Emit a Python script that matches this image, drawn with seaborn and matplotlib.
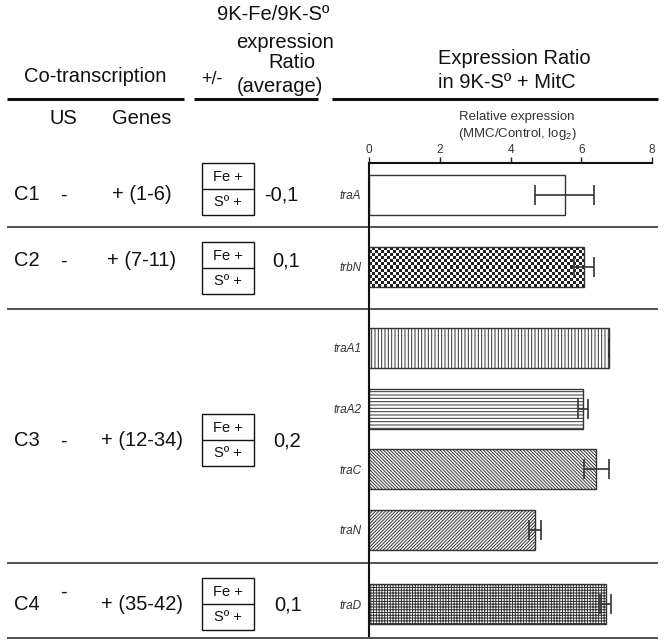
import numpy as np
import pandas as pd
import matplotlib
matplotlib.use("Agg")
from matplotlib import pyplot as plt
from matplotlib.patches import Rectangle
from matplotlib.colors import ListedColormap
import seaborn as sns

# ---- data ----
genes = ["traA", "trbN", "traA1", "traA2", "traC", "traN", "traD"]
rel_expr = [5.53, 6.08, 6.78, 6.04, 6.43, 4.69, 6.69]
rel_err = [0.83, 0.29, 0.0, 0.14, 0.36, 0.16, 0.16]

clusters = ["C1", "C2", "C3", "C4"]
us_marks = ["-", "-", "-", "-"]
gene_ranges = ["+ (1-6)", "+ (7-11)", "+ (12-34)", "+ (35-42)"]
ratio_avg = ["-0,1", "0,1", "0,2", "0,1"]
xticks = [0, 2, 4, 6, 8]

# ---- layout (pixel coords of the 666x642 canvas) ----
W, H = 666, 642
bar_y = [195, 266.7, 348, 409, 469.3, 530, 604.5]
row_y = [195, 261, 441, 605]
us_y = [195, 261, 441, 592]
box_top = [163, 242, 414, 578]
ratio_x = [281, 286, 287, 288]
sep_y = [227, 308.5, 563, 638]
hatches = ["", "checker", "|||||", "-----", "\\" * 10, "/" * 10, "++++++"]

sns.set_style("white")
plt.rcParams["font.family"] = ["Liberation Sans", "DejaVu Sans"]
plt.rcParams["hatch.linewidth"] = 0.7
plt.rcParams["mathtext.fontset"] = "custom"
plt.rcParams["mathtext.rm"] = "Liberation Sans"
plt.rcParams["mathtext.it"] = "Liberation Sans:italic"

fig = plt.figure(figsize=(6.66, 6.42), dpi=100)

# background axes for the table part
tab = fig.add_axes([0, 0, 1, 1])
tab.set_xlim(0, W)
tab.set_ylim(H, 0)
tab.axis("off")

ink = "#111111"
big = 14.5

# header
tab.text(95, 77, "Co-transcription", ha="center", va="center", fontsize=big, color=ink)
tab.text(273, 14, "9K-Fe/9K-Sº", ha="center", va="center", fontsize=big, color=ink)
tab.text(285, 43, "expression", ha="center", va="center", fontsize=big, color=ink)
tab.text(292, 63, "Ratio", ha="center", va="center", fontsize=big, color=ink)
tab.text(212, 79, "+/-", ha="center", va="center", fontsize=13, color=ink)
tab.text(280, 87, "(average)", ha="center", va="center", fontsize=big, color=ink)
tab.text(438, 58, "Expression Ratio", ha="left", va="center", fontsize=big, color=ink)
tab.text(438, 82, "in 9K-Sº + MitC", ha="left", va="center", fontsize=big, color=ink)
tab.text(63, 118, "US", ha="center", va="center", fontsize=big, color=ink)
tab.text(142, 118, "Genes", ha="center", va="center", fontsize=big, color=ink)
tab.text(517, 117, "Relative expression", ha="center", va="center", fontsize=9.5, color="#333333")
tab.text(517, 134, "(MMC/Control, log$_2$)", ha="center", va="center", fontsize=9.5, color="#333333")

for x0, x1 in [(7, 184), (194, 318), (332, 658)]:
    tab.plot([x0, x1], [99, 99], lw=2.2, color=ink, solid_capstyle="butt")
for y in sep_y:
    tab.plot([7, 658], [y, y], lw=1.1, color="#222222", solid_capstyle="butt")

# rows
for i in range(len(clusters)):
    tab.text(27, row_y[i], clusters[i], ha="center", va="center", fontsize=big, color=ink)
    tab.text(63, us_y[i], us_marks[i], ha="center", va="center", fontsize=big, color=ink)
    tab.text(142, row_y[i], gene_ranges[i], ha="center", va="center", fontsize=big, color=ink)
    tab.text(ratio_x[i], row_y[i], ratio_avg[i], ha="center", va="center", fontsize=big, color=ink)
    top = box_top[i]
    tab.add_patch(Rectangle((202, top), 52, 52, fill=False, lw=1.0, ec=ink))
    tab.plot([202, 254], [top + 26, top + 26], lw=1.0, color=ink)
    tab.text(228, top + 14, "Fe +", ha="center", va="center", fontsize=10.5, color=ink)
    tab.text(228, top + 39, "Sº +", ha="center", va="center", fontsize=10.5, color=ink)

# bar axes
ax = fig.add_axes([369 / W, 1 - 636 / H, 283 / W, (636 - 163) / H])
ax.patch.set_alpha(0)

df = pd.DataFrame({"gene": genes, "value": rel_expr, "err": rel_err, "pos": bar_y})
sns.barplot(data=df, x="value", y="pos", orient="y", native_scale=True,
            color="white", saturation=1, edgecolor="#333333", linewidth=1.0,
            errorbar=None, width=40 / 60.3, ax=ax)

bars = sorted(ax.patches, key=lambda p: p.get_y())
for p, h in zip(bars, hatches):
    if h == "checker":
        x0, y0, w, hh = p.get_x(), p.get_y(), p.get_width(), p.get_height()
        checker = np.indices((13, 72)).sum(axis=0) % 2
        ax.imshow(checker, cmap=ListedColormap(["white", "#222222"]),
                  extent=(x0, x0 + w, y0 + hh, y0), aspect="auto",
                  interpolation="nearest", clip_path=p, zorder=0.9)
        p.set_facecolor("none")
        p.set_zorder(1.5)
    else:
        p.set_hatch(h)

ax.errorbar(df["value"], df["pos"], xerr=df["err"], fmt="none", ecolor="#333333",
            elinewidth=1.2, capsize=7.5, capthick=1.2, zorder=3)

ax.set_xlim(0, 8)
ax.set_ylim(636, 163)
ax.xaxis.tick_top()
ax.set_xticks(xticks)
ax.set_yticks(bar_y, genes, fontstyle="italic")
ax.set_xlabel("")
ax.set_ylabel("")
ax.tick_params(axis="x", direction="out", length=4, width=1, labelsize=8.5,
               pad=1, colors="#222222", labelcolor="#333333")
ax.tick_params(axis="y", direction="out", length=4, width=1, labelsize=8.5,
               pad=1.5, colors="#222222", labelcolor="#333333")
for s in ["right", "bottom"]:
    ax.spines[s].set_visible(False)
for s in ["left", "top"]:
    ax.spines[s].set_linewidth(1.5)
    ax.spines[s].set_color("#111111")

fig.savefig("out.png", dpi=100)
